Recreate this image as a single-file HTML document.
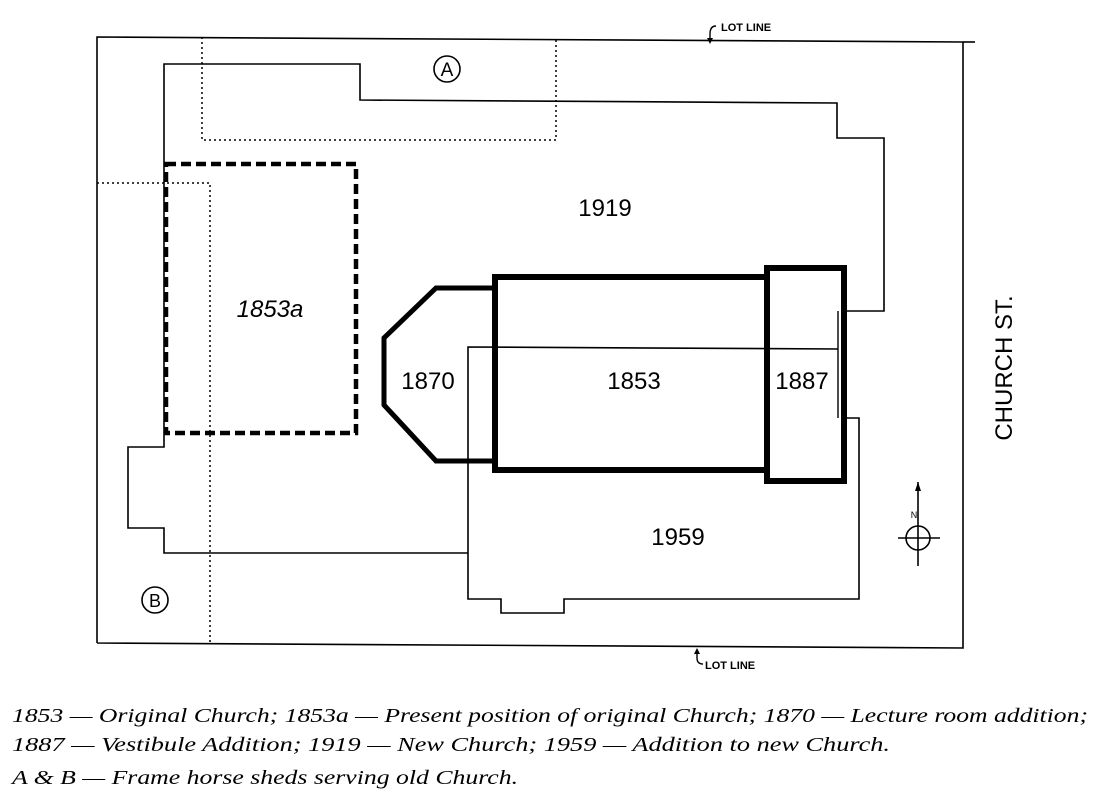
<!DOCTYPE html>
<html><head><meta charset="utf-8"><style>
html,body{margin:0;padding:0;background:#fff;}
svg{display:block;}
</style></head><body>
<svg width="1096" height="808" viewBox="0 0 1096 808" xmlns="http://www.w3.org/2000/svg">
<g fill="none" stroke="#000" stroke-linejoin="miter">
<polyline points="97,643 97,37 963,42 963,648 97,643" stroke-width="1.6"/>
<line x1="963" y1="42" x2="975" y2="42" stroke-width="1.6"/>
<polyline points="468,553 164,553 164,528 128,528 128,447 164,447 164,64 360,64 360,100 837,103 837,138 884,138 884,311 844,311" stroke-width="1.6"/>
<polyline points="844,418 859,418 859,599 564,599 564,613 501,613 501,599 468,599 468,347 838,349" stroke-width="1.6"/>
<line x1="838" y1="311" x2="838" y2="418" stroke-width="1.4"/>
<g stroke-width="1.5" stroke-dasharray="2,3">
<polyline points="202,37 202,140 556,140 556,37"/>
<polyline points="97,183 210,183 210,643"/>
</g>
<rect x="166" y="164" width="190" height="269" stroke-width="4.5" stroke-dasharray="10,5"/>
<polyline points="495,288 436,288 384,338 384,405 436,461 495,461" stroke-width="5"/>
<rect x="495" y="277" width="272" height="193" stroke-width="6"/>
<rect x="767" y="268" width="77" height="213" stroke-width="6"/>
<circle cx="447" cy="69" r="13" stroke-width="1.6"/>
<circle cx="155" cy="600" r="13" stroke-width="1.6"/>
<circle cx="918" cy="538" r="12" stroke-width="1.6"/>
<line x1="918" y1="482" x2="918" y2="566" stroke-width="1.6"/>
<line x1="898" y1="538" x2="940" y2="538" stroke-width="1.6"/>
<path d="M716,26 q-6,0 -6,8 v8" stroke-width="1.4"/>
<path d="M697,650 v8 q0,6 6,6" stroke-width="1.4"/>
</g>
<path d="M918,482 l-3,9 h6z" fill="#000"/>
<path d="M707,38 l3,6 l3,-6z" fill="#000"/>
<path d="M694,654 l3,-6 l3,6z" fill="#000"/>
<g font-family="'Liberation Sans',sans-serif" fill="#000">
<text x="447" y="76" font-size="19" text-anchor="middle">A</text>
<text x="155" y="607" font-size="18" text-anchor="middle">B</text>
<text x="605" y="216" font-size="24" text-anchor="middle">1919</text>
<text x="270" y="317" font-size="24" text-anchor="middle" font-style="italic">1853a</text>
<text x="428" y="389" font-size="24" text-anchor="middle">1870</text>
<text x="634" y="389" font-size="24" text-anchor="middle">1853</text>
<text x="802" y="389" font-size="24" text-anchor="middle">1887</text>
<text x="678" y="545" font-size="24" text-anchor="middle">1959</text>
<text x="914" y="518" font-size="9" text-anchor="middle">N</text>
<text x="721" y="31" font-size="11" font-weight="bold">LOT LINE</text>
<text x="705" y="669" font-size="11" font-weight="bold">LOT LINE</text>
<text transform="translate(1012,368) rotate(-90)" font-size="24" text-anchor="middle">CHURCH ST.</text>
</g>
<g font-family="'Liberation Serif',serif" font-style="italic" font-size="20" fill="#000">
<text x="12" y="722" textLength="1076" lengthAdjust="spacingAndGlyphs">1853 — Original Church; 1853a — Present position of original Church; 1870 — Lecture room addition;</text>
<text x="12" y="751" textLength="878" lengthAdjust="spacingAndGlyphs">1887 — Vestibule Addition; 1919 — New Church; 1959 — Addition to new Church.</text>
<text x="12" y="784" textLength="506" lengthAdjust="spacingAndGlyphs">A &amp; B — Frame horse sheds serving old Church.</text>
</g>
</svg>
</body></html>
